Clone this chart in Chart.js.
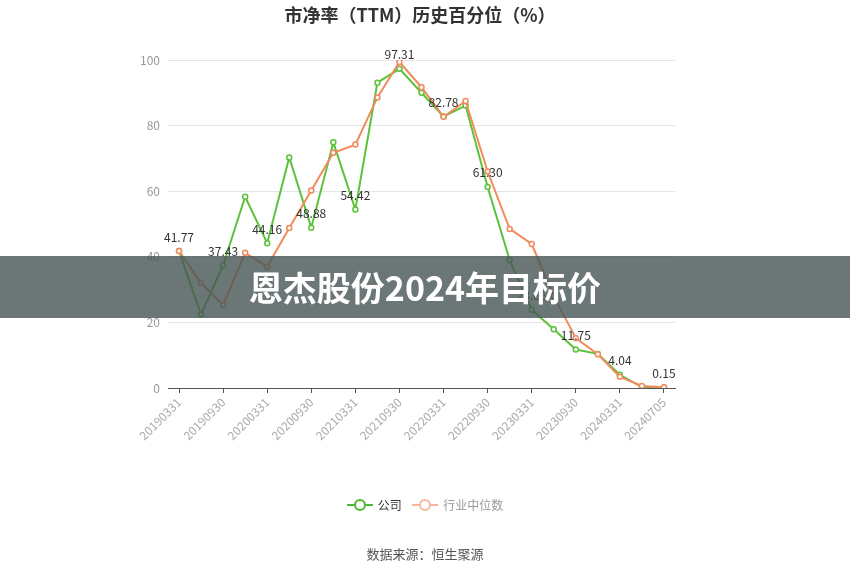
<!DOCTYPE html>
<html>
<head>
<meta charset="utf-8">
<script src="https://cdn.jsdelivr.net/npm/chart.js@4"></script>
<style>
  body { margin: 0; background: #fff; font-family: "Noto Sans CJK SC", "Noto Sans", sans-serif; }
  #wrap { position: relative; width: 850px; height: 575px; overflow: hidden; }
  #title { position: absolute; top: 1px; left: 0; width: 840px; text-align: center; font-size: 18px; font-weight: bold; color: #333; }
  #legend { position: absolute; top: 496px; left: 0; width: 850px; text-align: center; font-size: 12px; }
  #legend span { display: inline-flex; align-items: center; margin: 0 4px; }
  #legend svg { margin-right: 5px; }
  #source { position: absolute; top: 544px; left: 0; width: 850px; text-align: center; font-size: 13px; color: #555; }
  #banner { position: absolute; top: 256px; left: 0; width: 850px; height: 62px; background: rgba(70, 85, 84, 0.8);
    color: #fff; font-size: 34px; font-weight: bold; text-align: center; line-height: 62px; }
</style>
</head>
<body>
<div id="wrap">
  <canvas id="chart" width="850" height="575"></canvas>
  <div id="title">市净率（TTM）历史百分位（%）</div>
  <div id="legend">
    <span style="color:#333"><svg width="26" height="14"><line x1="0" y1="7" x2="26" y2="7" stroke="#4fb82e" stroke-width="2"/><circle cx="13" cy="7" r="5" fill="#fff" stroke="#4fb82e" stroke-width="2"/></svg>公司</span>
    <span style="color:#999"><svg width="26" height="14"><line x1="0" y1="7" x2="26" y2="7" stroke="#f6b79c" stroke-width="2"/><circle cx="13" cy="7" r="5" fill="#fff" stroke="#f6b79c" stroke-width="2"/></svg>行业中位数</span>
  </div>
  <div id="source">数据来源：恒生聚源</div>
  <div id="banner">恩杰股份2024年目标价</div>
</div>
<script>
// 报告期
const dates = ['20190331', '20190630', '20190930', '20191231', '20200331', '20200630', '20200930', '20201231',
  '20210331', '20210630', '20210930', '20211231', '20220331', '20220630', '20220930', '20221231',
  '20230331', '20230630', '20230930', '20231231', '20240331', '20240630', '20240705'];

// 公司
const company = [41.77, 22.4, 37.43, 58.3, 44.16, 70.3, 48.88, 74.9, 54.42, 93.1, 97.31, 90.0,
  82.78, 86.1, 61.30, 39.0, 23.85, 17.9, 11.75, 10.4, 4.04, 0.3, 0.15];

// 行业中位数
const industry = [41.8, 32.0, 25.3, 41.2, 37.0, 48.8, 60.2, 71.7, 74.2, 88.6, 99.4, 91.7,
  82.7, 87.5, 66.0, 48.5, 43.9, 28.0, 15.2, 10.3, 3.4, 0.6, 0.2];

const yTicks = [0, 20, 40, 60, 80, 100];

const green = '#5cc23a';
const orange = '#f28a5e';

// 偶数位置显示数值标签
const valueLabels = {
  id: 'valueLabels',
  afterDatasetsDraw(chart) {
    const ctx = chart.ctx;
    const meta = chart.getDatasetMeta(0);
    ctx.save();
    ctx.font = '12px "Noto Sans CJK SC", "Noto Sans", sans-serif';
    ctx.fillStyle = '#333';
    ctx.textAlign = 'center';
    ctx.textBaseline = 'bottom';
    meta.data.forEach((pt, i) => {
      if (i % 2 !== 0) return;
      ctx.fillText(company[i].toFixed(2), pt.x, pt.y - 8);
    });
    ctx.restore();
  }
};

new Chart(document.getElementById('chart'), {
  type: 'line',
  data: {
    labels: dates,
    datasets: [{
      label: '公司',
      data: company,
      borderColor: green,
      backgroundColor: '#fff',
      borderWidth: 2,
      pointRadius: 2.5,
      pointBorderWidth: 1.5,
      pointBackgroundColor: '#fff',
      tension: 0,
      order: 1
    }, {
      label: '行业中位数',
      data: industry,
      borderColor: orange,
      backgroundColor: '#fff',
      borderWidth: 2,
      pointRadius: 2.5,
      pointBorderWidth: 1.5,
      pointBackgroundColor: '#fff',
      tension: 0,
      order: 0
    }]
  },
  options: {
    responsive: false,
    animation: false,
    layout: { padding: { left: 100, right: 175, top: 60, bottom: 107 } },
    plugins: {
      legend: { display: false },
      tooltip: { enabled: false }
    },
    scales: {
      x: {
        offset: true,
        afterFit: s => { s.height = 80; },
        grid: {
          offset: false,
          drawOnChartArea: false,
          drawTicks: true,
          tickLength: 5,
          color: c => (c.index % 2 === 0 ? '#555' : 'transparent')
        },
        border: { display: true, color: '#555', width: 1 },
        ticks: {
          autoSkip: false,
          minRotation: 45,
          maxRotation: 45,
          padding: 2,
          color: '#aaa',
          font: { size: 12, family: '"Noto Sans CJK SC", "Noto Sans", sans-serif' },
          callback: (v, i) => (i % 2 === 0 ? dates[i] : '')
        }
      },
      y: {
        min: 0,
        max: 100,
        afterFit: s => { s.width = 68; },
        afterBuildTicks: s => { s.ticks = yTicks.map(v => ({ value: v })); },
        grid: { color: '#e6e6e6', drawTicks: false },
        border: { display: false },
        ticks: {
          padding: 8,
          color: '#999',
          font: { size: 12, family: '"Noto Sans CJK SC", "Noto Sans", sans-serif' }
        }
      }
    }
  },
  plugins: [valueLabels]
});
</script>
</body>
</html>
